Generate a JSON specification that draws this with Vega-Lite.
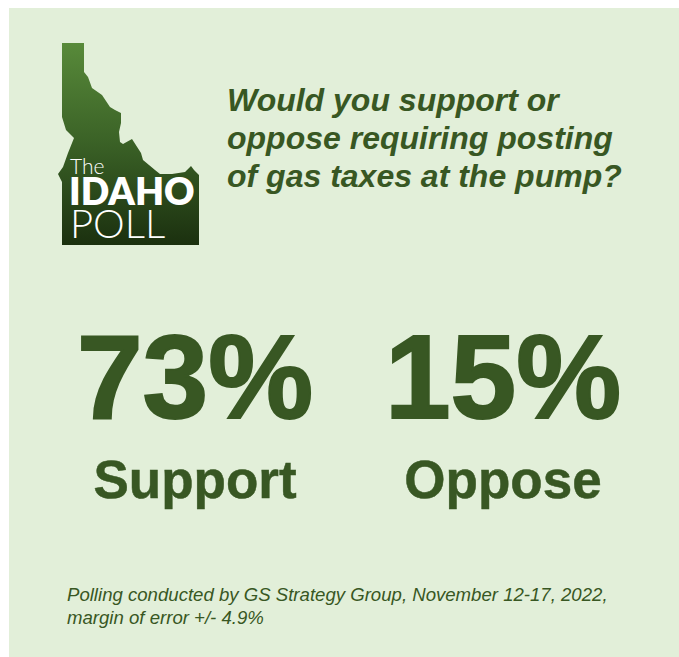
{
  "$schema": "https://vega.github.io/schema/vega-lite/v6.json",
  "width": 670,
  "height": 649,
  "padding": {"left": 9, "top": 8, "right": 0, "bottom": 0},
  "autosize": "none",
  "background": "#ffffff",
  "view": {"fill": "#e2efd9", "stroke": null},
  "layer": [
    {
      "data": {"values": [{
        "type": "Feature",
        "properties": {"name": "Idaho"},
        "geometry": {"type": "Polygon", "coordinates": [[
          [62, 43], [84, 43], [84, 72], [88, 77], [92, 88], [102, 95], [110, 107], [115, 110], [121, 113],
          [121, 123], [119, 132], [120, 142], [123, 144], [132, 139], [141, 153], [143, 160], [149, 165],
          [155, 170], [160, 174], [172, 174], [185, 172], [191, 166], [194, 170], [199, 175], [199, 245],
          [62, 245], [62, 182], [61, 180], [58, 174], [63, 167], [68, 153], [74, 138], [66, 130], [62, 117], [62, 43]
        ]]}
      }]},
      "projection": {"type": "identity", "scale": 1, "translate": [-9, -8]},
      "mark": {
        "type": "geoshape",
        "stroke": null,
        "fill": {
          "x1": 0, "y1": 0, "x2": 0, "y2": 1,
          "gradient": "linear",
          "stops": [
            {"offset": 0, "color": "#588a3a"},
            {"offset": 0.5, "color": "#3a6126"},
            {"offset": 1, "color": "#1b300f"}
          ]
        }
      }
    },
    {
      "data": {"values": [
        {"line": "The", "h": 167.5, "l": 70},
        {"line": "POLL", "h": 225.5, "l": 70}
      ]},
      "mark": {"type": "text", "font": "Lato", "fontWeight": 300, "align": "left", "baseline": "middle", "color": "#ffffff"},
      "encoding": {
        "x": {"field": "l", "type": "quantitative", "scale": {"domain": [9, 679]}, "axis": null},
        "y": {"field": "h", "type": "quantitative", "scale": {"domain": [657, 8]}, "axis": null},
        "text": {"field": "line"},
        "size": {"field": "line", "type": "nominal", "legend": null, "scale": {"domain": ["The", "POLL"], "range": [21, 40]}}
      }
    },
    {
      "data": {"values": [{"line": "IDAHO", "h": 194, "l": 69}]},
      "mark": {"type": "text", "font": "Lato", "fontWeight": 800, "fontSize": 37.5, "align": "left", "baseline": "middle", "color": "#ffffff"},
      "encoding": {
        "x": {"field": "l", "type": "quantitative", "scale": {"domain": [9, 679]}, "axis": null},
        "y": {"field": "h", "type": "quantitative", "scale": {"domain": [657, 8]}, "axis": null},
        "text": {"field": "line"}
      }
    },
    {
      "data": {"values": [
        {"line": "Would you support or", "h": 111, "l": 227},
        {"line": "oppose requiring posting", "h": 149, "l": 227},
        {"line": "of gas taxes at the pump?", "h": 187, "l": 227}
      ]},
      "mark": {"type": "text", "font": "Liberation Sans", "fontWeight": 700, "fontStyle": "italic", "fontSize": 32, "align": "left", "baseline": "alphabetic", "color": "#385723"},
      "encoding": {
        "x": {"field": "l", "type": "quantitative", "scale": {"domain": [9, 679]}, "axis": null},
        "y": {"field": "h", "type": "quantitative", "scale": {"domain": [657, 8]}, "axis": null},
        "text": {"field": "line"}
      }
    },
    {
      "data": {"values": [
        {"response": "Support", "share": 0.73},
        {"response": "Oppose", "share": 0.15}
      ]},
      "layer": [
        {
          "mark": {"type": "text", "font": "Liberation Sans", "fontWeight": 700, "fontSize": 118, "align": "center", "baseline": "alphabetic", "color": "#385723", "stroke": "#385723", "strokeWidth": 2},
          "encoding": {
            "x": {"field": "response", "type": "nominal", "scale": {"domain": ["Support", "Oppose"], "range": [186, 494], "padding": 0}, "axis": null},
            "y": {"value": 410},
            "text": {"field": "share", "type": "quantitative", "format": ".0%"}
          }
        },
        {
          "mark": {"type": "text", "font": "Liberation Sans", "fontWeight": 700, "fontSize": 53, "align": "center", "baseline": "alphabetic", "color": "#385723", "stroke": "#385723", "strokeWidth": 0.5},
          "encoding": {
            "x": {"field": "response", "type": "nominal", "scale": {"domain": ["Support", "Oppose"], "range": [185, 491.5], "padding": 0}, "axis": null},
            "y": {"value": 490},
            "text": {"field": "response"}
          }
        }
      ]
    },
    {
      "data": {"values": [
        {"line": "Polling conducted by GS Strategy Group, November 12-17, 2022,", "h": 601, "l": 67},
        {"line": "margin of error +/- 4.9%", "h": 624, "l": 67}
      ]},
      "mark": {"type": "text", "font": "Liberation Sans", "fontStyle": "italic", "fontSize": 18.6, "align": "left", "baseline": "alphabetic", "color": "#385723"},
      "encoding": {
        "x": {"field": "l", "type": "quantitative", "scale": {"domain": [9, 679]}, "axis": null},
        "y": {"field": "h", "type": "quantitative", "scale": {"domain": [657, 8]}, "axis": null},
        "text": {"field": "line"}
      }
    }
  ],
  "resolve": {"scale": {"x": "independent", "size": "independent"}},
  "config": {"style": {"cell": {"stroke": null}}}
}
